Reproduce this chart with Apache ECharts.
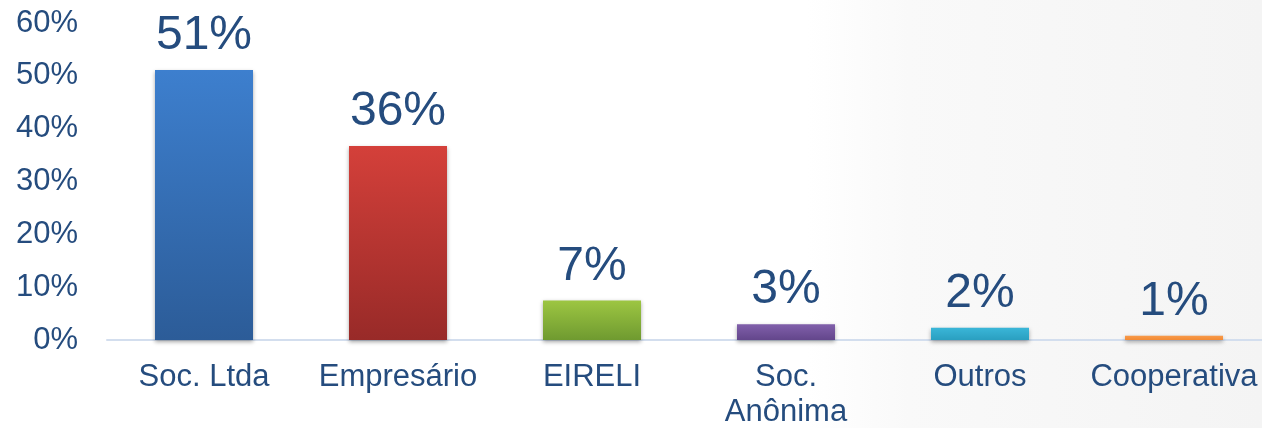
<!DOCTYPE html>
<html>
<head>
<meta charset="utf-8">
<script src="https://cdn.jsdelivr.net/npm/echarts@6/dist/echarts.min.js"></script>
<style>
html,body{margin:0;padding:0;background:#fff;}
#c{width:1262px;height:428px;}
</style>
</head>
<body>
<div id="c"></div>
<script>
const categories = ['Soc. Ltda', 'Empresário', 'EIRELI', 'Soc.\nAnônima', 'Outros', 'Cooperativa'];
const values = [51.1, 36.7, 7.5, 3.0, 2.3, 0.8];
const valueLabels = ['51%', '36%', '7%', '3%', '2%', '1%'];
const yTicks = [0, 10, 20, 30, 40, 50, 60];
const colorStops = [
  ['#3d7fce', '#2c5c98'],
  ['#d4403a', '#982a28'],
  ['#9dc642', '#6f9a30'],
  ['#8160ab', '#63468b'],
  ['#3ab6d8', '#2a9fc0'],
  ['#f89a4a', '#f28a34']
];
const textColor = '#254c7e';
const font = 'Liberation Sans, Arial, sans-serif';

const chart = echarts.init(document.getElementById('c'), null, {renderer: 'canvas'});
chart.setOption({
  backgroundColor: {
    type: 'linear', x: 0, y: 0, x2: 1, y2: 0,
    colorStops: [
      {offset: 0, color: '#ffffff'},
      {offset: 0.64, color: '#ffffff'},
      {offset: 0.72, color: '#f9f9f9'},
      {offset: 1, color: '#f4f4f4'}
    ]
  },
  animation: false,
  grid: {left: 107, width: 1164, top: 23, height: 317, containLabel: false, outerBoundsMode: 'none'},
  xAxis: {
    type: 'category',
    data: categories,
    axisLine: {show: true, lineStyle: {color: '#d3deee', width: 2}},
    axisTick: {show: false},
    axisLabel: {
      color: textColor, fontFamily: font, fontSize: 31, margin: 20,
      lineHeight: 35, interval: 0
    }
  },
  yAxis: {
    type: 'value',
    min: yTicks[0], max: yTicks[yTicks.length - 1], interval: 10,
    axisLine: {show: false},
    axisTick: {show: false},
    splitLine: {show: false},
    axisLabel: {
      color: textColor, fontFamily: font, fontSize: 31, margin: 29,
      formatter: v => v + '%'
    }
  },
  series: [{
    type: 'bar',
    barWidth: 98,
    data: values.map((v, i) => ({
      value: v,
      itemStyle: {
        color: {
          type: 'linear', x: 0, y: 0, x2: 0, y2: 1,
          colorStops: [{offset: 0, color: colorStops[i][0]}, {offset: 1, color: colorStops[i][1]}]
        },
        shadowColor: 'rgba(0,0,0,0.35)', shadowBlur: 4, shadowOffsetY: 2
      }
    })),
    label: {
      show: true, position: 'top', distance: 10,
      color: textColor, fontFamily: font, fontSize: 48,
      formatter: p => valueLabels[p.dataIndex]
    }
  }]
});
</script>
</body>
</html>
